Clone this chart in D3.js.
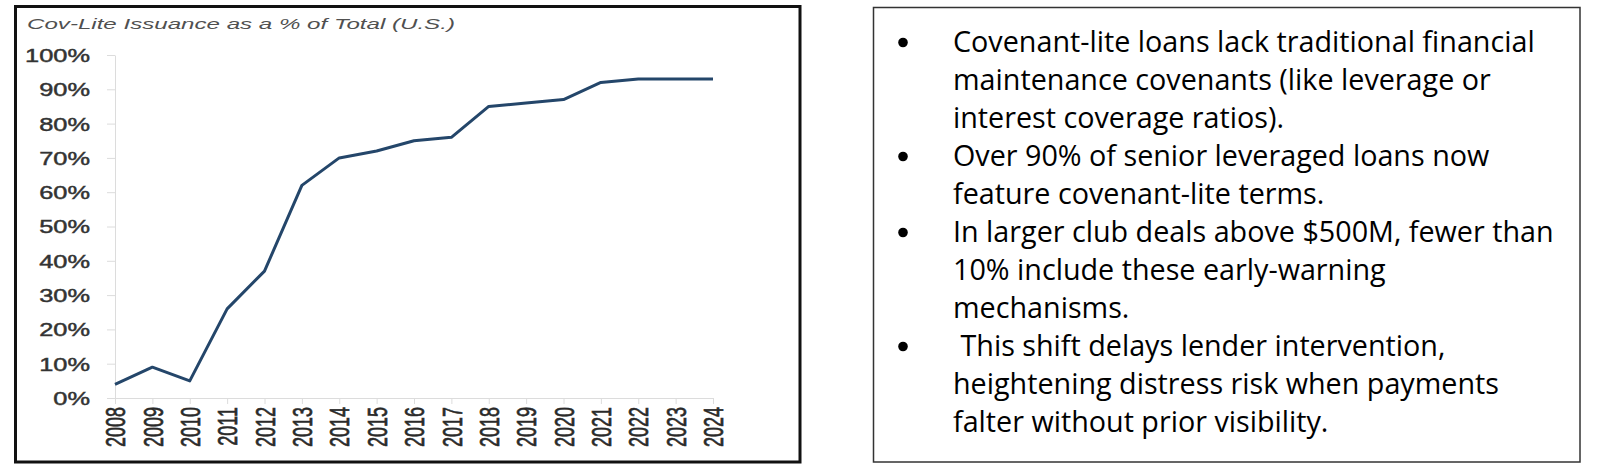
<!DOCTYPE html>
<html><head><meta charset="utf-8">
<script src="https://cdn.jsdelivr.net/npm/d3@7/dist/d3.min.js"></script>
<style>html,body{margin:0;padding:0;background:#fff;overflow:hidden}</style>
</head><body>
<svg id="c" width="1600" height="468"></svg>
<script>
const years = [2008,2009,2010,2011,2012,2013,2014,2015,2016,2017,2018,2019,2020,2021,2022,2023,2024];
const values = [4,9,5,26,37,62,70,72,75,76,85,86,87,92,93,93,93];
const yTicks = [0,10,20,30,40,50,60,70,80,90,100];
const chartTitle = "Cov-Lite Issuance as a % of Total (U.S.)";
const bulletPoints = [
  ["Covenant-lite loans lack traditional financial", "maintenance covenants (like leverage or", "interest coverage ratios)."],
  ["Over 90% of senior leveraged loans now", "feature covenant-lite terms."],
  ["In larger club deals above $500M, fewer than", "10% include these early-warning", "mechanisms."],
  [" This shift delays lender intervention,", "heightening distress risk when payments", "falter without prior visibility."]
];

const svg = d3.select("#c");

// Left frame
svg.append("rect").attr("x",15.5).attr("y",6.5).attr("width",784.5).attr("height",455.5)
  .attr("fill","none").attr("stroke","#111").attr("stroke-width",3);

// Title
const title = svg.append("text").attr("font-family","Liberation Sans, Arial, sans-serif")
  .attr("font-style","italic").attr("font-size",15).attr("fill","#505050").text(chartTitle);
const tLen = title.node().getComputedTextLength();
title.attr("transform", `translate(27,29) scale(${428/tLen},1)`);

const x = d3.scalePoint().domain(years).range([115,713]);
const y = d3.scaleLinear().domain([0,100]).range([398,55]);

const yAxis = svg.append("g").attr("transform","translate(115,0)")
  .call(d3.axisLeft(y).tickValues(yTicks).tickSize(8).tickSizeOuter(0).tickFormat(d=>d+"%"));
yAxis.select(".domain").attr("stroke","#dcdcdc");
yAxis.selectAll(".tick line").attr("stroke","#dcdcdc");
yAxis.selectAll(".tick text").attr("x",0).attr("dy","0.36em")
  .attr("font-family","Liberation Sans, Arial, sans-serif").attr("font-size",18).attr("fill","#333")
  .attr("stroke","#333").attr("stroke-width",0.45)
  .attr("text-anchor","end").attr("transform","translate(-25,0) scale(1.41,1)");

const xAxis = svg.append("g").attr("transform","translate(0,398)")
  .call(d3.axisBottom(x).tickSize(6).tickSizeOuter(0));
xAxis.select(".domain").attr("stroke","#dcdcdc");
xAxis.selectAll(".tick line").attr("stroke","#dcdcdc");
xAxis.selectAll(".tick text").attr("x",0).attr("y",0).attr("dy","0.36em")
  .attr("font-family","Liberation Sans, Arial, sans-serif").attr("font-size",18).attr("fill","#2a2a2a")
  .attr("stroke","#2a2a2a").attr("stroke-width",0.45)
  .attr("text-anchor","end").attr("transform","translate(0,9) scale(1.5,1) rotate(-90)");

const line = d3.line().x((d,i)=>x(years[i])).y(d=>y(d));
svg.append("path").datum(values).attr("d",line).attr("fill","none")
  .attr("stroke","#24466a").attr("stroke-width",3).attr("stroke-linejoin","round");

// Right box
svg.append("rect").attr("x",873.5).attr("y",7.5).attr("width",706.5).attr("height",454.5)
  .attr("fill","none").attr("stroke","#333").attr("stroke-width",1.5);

const fontFam = "Open Sans, Noto Sans, sans-serif";
const probe = svg.append("text").attr("font-family",fontFam).attr("font-weight",500).attr("font-size",100).text(bulletPoints[0][0]);
const fs = 100*582/probe.node().getComputedTextLength();
probe.remove();

let li = 0;
const textG = svg.append("g");
bulletPoints.forEach(lines=>{
  const by = 52 + 38*li;
  textG.append("circle").attr("cx",903).attr("cy",by-9.5).attr("r",4.8).attr("fill","#000");
  lines.forEach(t=>{
    textG.append("text").attr("x",953).attr("y",52+38*li).attr("font-family",fontFam)
      .attr("font-weight",500).attr("font-size",fs).attr("fill","#000").style("white-space","pre").text(t);
    li++;
  });
});
</script>
</body></html>
